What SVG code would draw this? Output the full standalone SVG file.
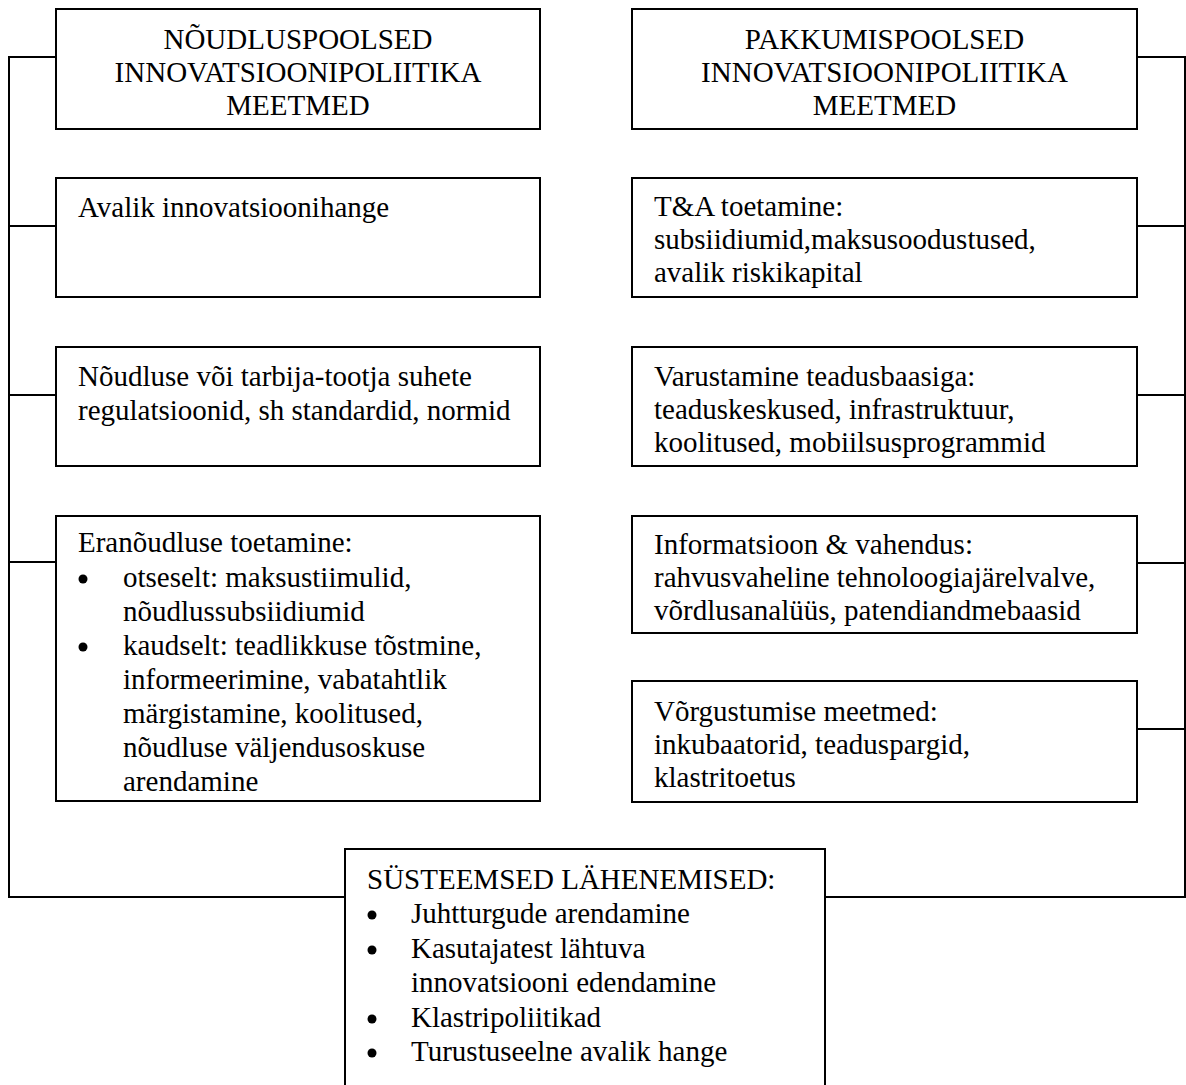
<svg xmlns="http://www.w3.org/2000/svg" width="1186" height="1085" viewBox="0 0 1186 1085">
<style>
.box{fill:#fff;stroke:#000;stroke-width:2}
.con{fill:none;stroke:#000;stroke-width:2}
text{font-family:"Liberation Serif","Times New Roman",serif;font-size:29px;fill:#000}
.c{text-anchor:middle}
.dot{fill:#000}
</style>
<rect width="1186" height="1085" fill="#fff"/>
<g id="connectors">
<polyline class="con" points="56,57 9,57 9,897 345,897"/>
<line class="con" x1="9" y1="226" x2="56" y2="226"/>
<line class="con" x1="9" y1="395" x2="56" y2="395"/>
<line class="con" x1="9" y1="562" x2="56" y2="562"/>
<polyline class="con" points="1137,57 1185,57 1185,897 825,897"/>
<line class="con" x1="1137" y1="226" x2="1185" y2="226"/>
<line class="con" x1="1137" y1="395" x2="1185" y2="395"/>
<line class="con" x1="1137" y1="563" x2="1185" y2="563"/>
<line class="con" x1="1137" y1="729" x2="1185" y2="729"/>
</g>
<g id="demand-header">
<rect class="box" x="56" y="9" width="484" height="120"/>
<text class="c" x="298" y="49">NÕUDLUSPOOLSED</text>
<text class="c" x="298" y="82">INNOVATSIOONIPOLIITIKA</text>
<text class="c" x="298" y="115">MEETMED</text>
</g>
<g id="supply-header">
<rect class="box" x="632" y="9" width="505" height="120"/>
<text class="c" x="884.5" y="49">PAKKUMISPOOLSED</text>
<text class="c" x="884.5" y="82">INNOVATSIOONIPOLIITIKA</text>
<text class="c" x="884.5" y="115">MEETMED</text>
</g>
<g id="avalik">
<rect class="box" x="56" y="178" width="484" height="119"/>
<text x="78" y="217">Avalik innovatsioonihange</text>
</g>
<g id="noudluse">
<rect class="box" x="56" y="347" width="484" height="119"/>
<text x="78" y="386">Nõudluse või tarbija-tootja suhete</text>
<text x="78" y="420">regulatsioonid, sh standardid, normid</text>
</g>
<g id="eranoudluse">
<rect class="box" x="56" y="516" width="484" height="285"/>
<text x="78" y="552">Eranõudluse toetamine:</text>
<circle class="dot" cx="83" cy="579" r="4.5"/>
<text x="123" y="587">otseselt: maksustiimulid,</text>
<text x="123" y="621">nõudlussubsiidiumid</text>
<circle class="dot" cx="83" cy="647" r="4.5"/>
<text x="123" y="655">kaudselt: teadlikkuse tõstmine,</text>
<text x="123" y="689">informeerimine, vabatahtlik</text>
<text x="123" y="723">märgistamine, koolitused,</text>
<text x="123" y="757">nõudluse väljendusoskuse</text>
<text x="123" y="791">arendamine</text>
</g>
<g id="ta">
<rect class="box" x="632" y="178" width="505" height="119"/>
<text x="654" y="216">T&amp;A toetamine:</text>
<text x="654" y="249">subsiidiumid,maksusoodustused,</text>
<text x="654" y="282">avalik riskikapital</text>
</g>
<g id="varustamine">
<rect class="box" x="632" y="347" width="505" height="119"/>
<text x="654" y="386">Varustamine teadusbaasiga:</text>
<text x="654" y="419">teaduskeskused, infrastruktuur,</text>
<text x="654" y="452">koolitused, mobiilsusprogrammid</text>
</g>
<g id="informatsioon">
<rect class="box" x="632" y="516" width="505" height="117"/>
<text x="654" y="554">Informatsioon &amp; vahendus:</text>
<text x="654" y="587">rahvusvaheline tehnoloogiajärelvalve,</text>
<text x="654" y="620">võrdlusanalüüs, patendiandmebaasid</text>
</g>
<g id="vorgustumise">
<rect class="box" x="632" y="681" width="505" height="121"/>
<text x="654" y="721">Võrgustumise meetmed:</text>
<text x="654" y="754">inkubaatorid, teaduspargid,</text>
<text x="654" y="787">klastritoetus</text>
</g>
<g id="systeemsed">
<rect class="box" x="345" y="849" width="480" height="250"/>
<text x="367" y="889">SÜSTEEMSED LÄHENEMISED:</text>
<circle class="dot" cx="372" cy="915" r="4.5"/>
<text x="411" y="923">Juhtturgude arendamine</text>
<circle class="dot" cx="372" cy="950" r="4.5"/>
<text x="411" y="958">Kasutajatest lähtuva</text>
<text x="411" y="992">innovatsiooni edendamine</text>
<circle class="dot" cx="372" cy="1019" r="4.5"/>
<text x="411" y="1027">Klastripoliitikad</text>
<circle class="dot" cx="372" cy="1053" r="4.5"/>
<text x="411" y="1061">Turustuseelne avalik hange</text>
</g>
</svg>
